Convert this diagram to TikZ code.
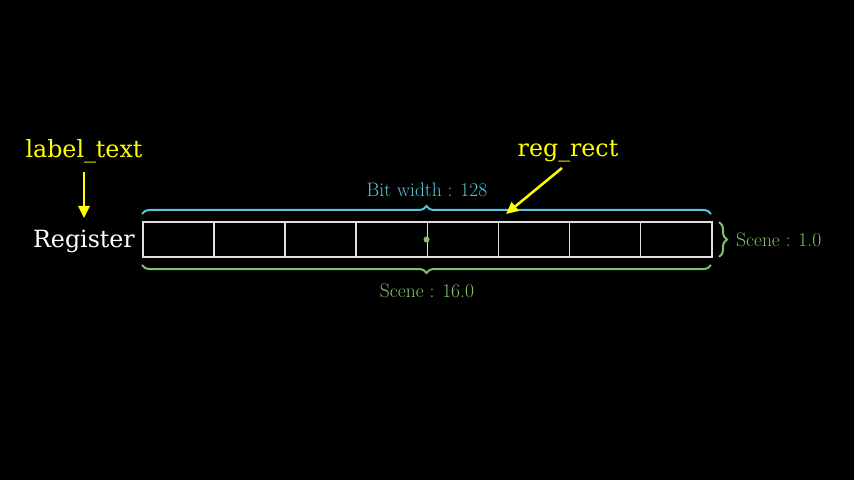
\documentclass[tikz,border=0pt]{standalone}
\usepackage{fontspec}
\newfontfamily\dvs{DejaVu Serif}
\usetikzlibrary{arrows.meta,decorations.pathreplacing}
\definecolor{mblue}{HTML}{58C4DD}
\definecolor{mgreen}{HTML}{83C167}
\definecolor{myellow}{HTML}{FFFF00}
\tikzset{
  cellbox/.style={draw=white!88!black,line width=1.5pt,minimum height=35pt,minimum width=71.125pt,inner sep=0pt,anchor=west},
  bracestyle/.style={decorate,decoration={brace,amplitude=8pt},line width=2pt},
  ptr/.style={draw=myellow,line width=2.5pt,-{Triangle[length=12pt,width=11pt]}},
  bigtxt/.style={font=\dvs\fontsize{23.7}{27}\selectfont,inner sep=0pt},
  smalltxt/.style={font=\fontsize{19.5}{22}\selectfont,inner sep=0pt}
}
\begin{document}
\begin{tikzpicture}[x=1pt,y=1pt]
\fill[black] (0,0) rectangle (854,480);
\useasboundingbox (0,0) rectangle (854,480);
% cells
\foreach \i in {0,...,7} {
  \node[cellbox] (c\i) at ({142+\i*71.125},240.5) {};
}
\fill[mgreen] (426.5,240.5) circle (3pt);
% braces
\coordinate (tl) at (142,266);
\coordinate (tr) at (711,266);
\draw[bracestyle,mblue] (tl) -- (tr);
\node[smalltxt,text=mblue] (bw) at (427,290) {Bit width : 128};
\coordinate (bl) at (142,215);
\coordinate (br) at (711,215);
\draw[bracestyle,mgreen] (br) -- (bl);
\node[smalltxt,text=mgreen] (sw) at (427,189) {Scene : 16.0};
\coordinate (rt) at (719,258);
\coordinate (rb) at (719,223);
\draw[bracestyle,mgreen] (rt) -- (rb);
\node[smalltxt,text=mgreen,anchor=west] (sh) at (736,240) {Scene : 1.0};
% labels
\node[bigtxt,text=white,anchor=east] (reg) at (135,239) {Register};
\node[bigtxt,text=myellow] (lt) at (84,329) {label\_text};
\node[bigtxt,text=myellow] (rr) at (568,329) {reg\_rect};
\coordinate (ltend) at (84,262);
\coordinate (ltstart) at (84,308);
\draw[ptr] (ltstart) -- (ltend);
\coordinate (rrstart) at (562,312);
\coordinate (rrend) at (506,266);
\draw[ptr] (rrstart) -- (rrend);
\end{tikzpicture}
\end{document}
